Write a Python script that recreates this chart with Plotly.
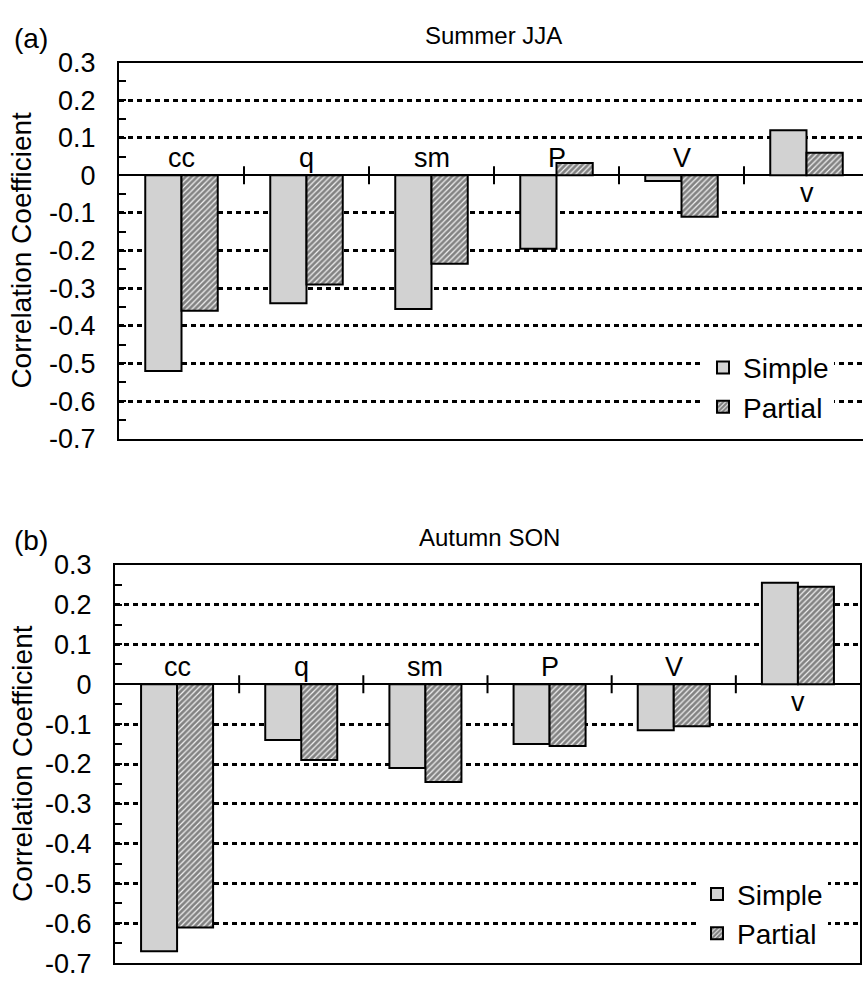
import plotly.graph_objects as go

# Correlation of each predictor with the response, two seasons
categories = ["cc", "q", "sm", "P", "V", "v"]
summer_simple = [-0.52, -0.34, -0.355, -0.195, -0.015, 0.12]
summer_partial = [-0.36, -0.29, -0.235, 0.033, -0.11, 0.06]
autumn_simple = [-0.67, -0.14, -0.21, -0.15, -0.115, 0.255]
autumn_partial = [-0.61, -0.19, -0.245, -0.155, -0.105, 0.245]
panel_titles = ["Summer JJA", "Autumn SON"]
panel_tags = ["(a)", "(b)"]
y_ticks = [0.3, 0.2, 0.1, 0, -0.1, -0.2, -0.3, -0.4, -0.5, -0.6, -0.7]
y_tick_text = ["0.3", "0.2", "0.1", "0", "-0.1", "-0.2", "-0.3", "-0.4", "-0.5", "-0.6", "-0.7"]

W, H = 863, 987
FONT = "Liberation Sans, Arial, Helvetica, sans-serif"

simple_style = dict(color="#d8d8d8", line=dict(color="black", width=2),
                    pattern=dict(shape=".", fgcolor="#8f8f8f", bgcolor="#e0e0e0",
                                 size=2, solidity=0.35))
partial_style = dict(color="white", line=dict(color="black", width=2),
                     pattern=dict(shape="/", fgcolor="#111111", bgcolor="#f2f2f2",
                                  size=4, solidity=0.7))

# pixel layout of the two panels
panels = [
    dict(left=119, right=863, top=49, bottom=437, xrange=[-0.5, 5.452], mirror_y=False,
         legend_x=703, legend_top=338),
    dict(left=115, right=860, top=567, bottom=978, xrange=[-0.5, 5.5], mirror_y=True,
         legend_x=697, legend_top=881),
]
series = [(summer_simple, summer_partial), (autumn_simple, autumn_partial)]

fig = go.Figure()
annotations = []
shapes = []
legends = {}

for i, (p, (simple, partial)) in enumerate(zip(panels, series)):
    n = "" if i == 0 else str(i + 1)
    xa, ya = "x" + n, "y" + n
    lg = "legend" + n
    fig.add_trace(go.Bar(x=categories, y=simple, name="Simple", marker=simple_style,
                         xaxis=xa, yaxis=ya, legend=lg, legendgroup=f"s{i}"))
    fig.add_trace(go.Bar(x=categories, y=partial, name="Partial", marker=partial_style,
                         xaxis=xa, yaxis=ya, legend=lg, legendgroup=f"p{i}"))

    xdom = [p["left"] / W, p["right"] / W]
    ydom = [1 - p["bottom"] / H, 1 - p["top"] / H]
    fig.layout["xaxis" + n] = dict(
        domain=xdom, range=p["xrange"], type="category", anchor=ya,
        showticklabels=False, ticks="", showgrid=False, zeroline=False,
        showline=True, linecolor="black", linewidth=2, mirror=True,
    )
    fig.layout["yaxis" + n] = dict(
        domain=ydom, range=[-0.7, 0.3], anchor=xa,
        tickvals=y_ticks, ticktext=y_tick_text,
        ticks="inside", ticklen=7, tickwidth=2, tickcolor="black",
        minor=dict(dtick=0.05, tick0=0, ticks="inside", ticklen=7, tickwidth=2,
                   tickcolor="black", showgrid=False),
        ticklabelstandoff=16,
        tickfont=dict(family=FONT, size=27, color="black"),
        showgrid=True, gridcolor="black", gridwidth=2.5, griddash="5px,4px",
        zeroline=True, zerolinecolor="black", zerolinewidth=2,
        showline=True, linecolor="black", linewidth=2, mirror=p["mirror_y"],
    )

    # category labels on the side of the zero line away from the bars
    for cat, s in zip(categories, simple):
        above = s < 0
        annotations.append(dict(
            x=cat, y=0, xref=xa, yref=ya, text=cat, showarrow=False,
            yanchor="bottom" if above else "top", yshift=0 if above else -1,
            font=dict(family=FONT, size=27, color="black"),
        ))
    # short ticks marking the boundaries between categories
    for k in range(len(categories) - 1):
        shapes.append(dict(
            type="line", xref=xa, yref=ya, x0=k + 0.5, x1=k + 0.5,
            ysizemode="pixel", yanchor=0, y0=-9, y1=9,
            line=dict(color="black", width=2),
        ))

    mid_y = 1 - ((p["top"] + p["bottom"]) / 2) / H
    annotations.append(dict(
        x=22 / W, y=mid_y, xref="paper", yref="paper", text="Correlation Coefficient",
        textangle=-90, showarrow=False, xanchor="center", yanchor="middle",
        font=dict(family=FONT, size=28, color="black"),
    ))
    annotations.append(dict(
        x=12 / W, y=1 - (p["top"] - 25) / H, xref="paper", yref="paper",
        text=panel_tags[i], showarrow=False, xanchor="left", yanchor="middle",
        font=dict(family=FONT, size=28, color="black"),
    ))
    annotations.append(dict(
        x=(p["left"] + 744 / 2 + 2) / W, y=1 - (p["top"] - 28) / H,
        xref="paper", yref="paper",
        text=panel_titles[i], showarrow=False, xanchor="center", yanchor="middle",
        font=dict(family=FONT, size=24, color="black"),
    ))

    # white legend box masks the dashed grid behind the entries
    legends["legend" + n] = dict(
        x=p["legend_x"] / W, y=1 - p["legend_top"] / H,
        xanchor="left", yanchor="top", bgcolor="white", borderwidth=0,
        font=dict(family=FONT, size=28, color="black"), traceorder="grouped",
        tracegroupgap=0, itemwidth=30,
    )

fig.update_layout(
    width=W, height=H, margin=dict(l=0, r=0, t=0, b=0),
    paper_bgcolor="white", plot_bgcolor="white",
    barmode="group", bargap=0.42, bargroupgap=0,
    showlegend=True,
    annotations=annotations, shapes=shapes,
    **legends,
)

fig.write_html("out.html")
